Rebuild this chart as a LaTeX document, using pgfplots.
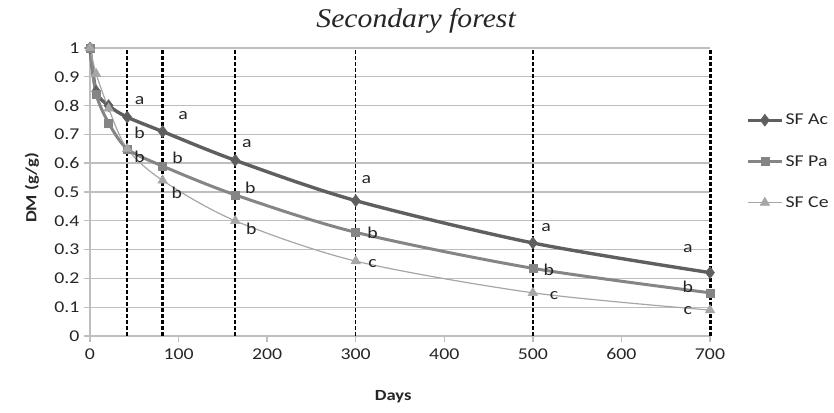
\documentclass[border=0pt]{standalone}
\usepackage{pgfplots}
\pgfplotsset{compat=1.18}
\usepackage{fontspec}
\setmainfont{Carlito}[FakeStretch=1.2]
\newfontfamily\titlefont{Liberation Serif}[FakeStretch=1.1]
\definecolor{acc}{HTML}{5F5F5F}
\definecolor{pac}{HTML}{858585}
\definecolor{cec}{HTML}{A6A6A6}
\definecolor{gridc}{HTML}{BEBEBE}
\definecolor{txt}{HTML}{262626}
\begin{document}
\begin{tikzpicture}
\begin{axis}[
  scale only axis, width=620pt, height=288pt,
  xmin=0, xmax=700, ymin=0, ymax=1,
  xtick={0,100,...,700}, ytick={0,0.1,...,1.0},
  yticklabels={0,0.1,0.2,0.3,0.4,0.5,0.6,0.7,0.8,0.9,1},
  axis x line=bottom, axis y line=left,
  axis line style={-, gridc, line width=1.6pt},
  tick style={gridc, line width=1.4pt},
  tick align=outside, major tick length=6pt,
  ymajorgrids, grid style={gridc, line width=1.4pt},
  ticklabel style={font=\fontsize{16.5}{19}\selectfont, text=txt},
  /pgf/number format/assume math mode=true,
  xticklabel style={yshift=-3pt},
  yticklabel style={xshift=-1pt},
  clip=false,
  legend style={at={(rel axis cs:1.058,0.778)}, anchor=north west, draw=none, fill=none,
    font=\fontsize{16.5}{19}\selectfont, text=txt, row sep=25pt, inner sep=0pt},
  legend cell align=left,
  legend image code/.code={\draw[mark repeat=2,mark phase=2,#1] plot coordinates {(0pt,0pt)(17pt,0pt)(34pt,0pt)};},
]
% dashed vertical lines
\addplot[black, line width=2.2pt, dash pattern=on 4pt off 2pt, forget plot] coordinates {(42,0) (42,1)};
\addplot[black, line width=2.6pt, dash pattern=on 4pt off 2pt, forget plot] coordinates {(82,0) (82,1)};
\addplot[black, line width=2.4pt, dash pattern=on 4pt off 2pt, forget plot] coordinates {(164,0) (164,1)};
\addplot[black, line width=1.3pt, dash pattern=on 4pt off 2pt, forget plot] coordinates {(300,0) (300,1)};
\addplot[black, line width=2.6pt, dash pattern=on 4pt off 2pt, forget plot] coordinates {(500,0) (500,1)};
\addplot[black, line width=3pt, dash pattern=on 4pt off 2pt, forget plot] coordinates {(700,0) (700,1)};
% series
\addplot[acc, line width=3.4pt, smooth, tension=0.5, mark=diamond*, mark size=6pt, mark options={solid, fill=acc, draw=acc, line width=0.5pt}]
  coordinates {(0,1.0) (7,0.85) (21,0.80) (42,0.76) (82,0.71) (164,0.61) (300,0.47) (500,0.323) (700,0.22)};
\addlegendentry{SF Ac}
\addplot[pac, line width=3pt, smooth, tension=0.5, mark=square*, mark size=4pt, mark options={solid, fill=pac, draw=pac, line width=0.5pt}]
  coordinates {(0,1.0) (7,0.84) (21,0.74) (42,0.65) (82,0.59) (164,0.49) (300,0.36) (500,0.235) (700,0.15)};
\addlegendentry{SF Pa}
\addplot[cec, line width=1.2pt, smooth, tension=0.5, mark=triangle*, mark size=5.5pt, mark options={solid, fill=cec, draw=cec, line width=0.5pt}]
  coordinates {(0,1.0) (7,0.91) (21,0.79) (42,0.65) (82,0.54) (164,0.40) (300,0.26) (500,0.15) (700,0.09)};
\addlegendentry{SF Ce}
% letters
\begin{scope}[every node/.style={font=\fontsize{16.5}{19}\selectfont, text=txt, inner sep=0pt}]
\node at (axis cs:56,0.818) {a};
\node at (axis cs:56,0.705) {b};
\node at (axis cs:56,0.622) {b};
\node at (axis cs:105,0.764) {a};
\node at (axis cs:99,0.618) {b};
\node at (axis cs:98,0.497) {b};
\node at (axis cs:177,0.667) {a};
\node at (axis cs:181,0.514) {b};
\node at (axis cs:182,0.372) {b};
\node at (axis cs:312,0.542) {a};
\node at (axis cs:319,0.358) {b};
\node at (axis cs:319,0.253) {c};
\node at (axis cs:515,0.375) {a};
\node at (axis cs:518,0.229) {b};
\node at (axis cs:524,0.139) {c};
\node at (axis cs:675,0.305) {a};
\node at (axis cs:675,0.170) {b};
\node at (axis cs:675,0.090) {c};
\end{scope}
\node[font=\titlefont\itshape\fontsize{27}{30}\selectfont, text=txt] at (rel axis cs:0.526,1.094) {Secondary forest};
\node[font=\bfseries\fontsize{15.5}{18}\selectfont, text=txt, rotate=90] at (rel axis cs:-0.0935,0.514) {DM (g/g)};
\node[font=\bfseries\fontsize{15.5}{18}\selectfont, text=txt] at (rel axis cs:0.489,-0.212) {Days};
\coordinate (ll) at (rel axis cs:0,0);
\end{axis}
\pgfresetboundingbox
\path (ll) ++(-90pt,-76pt) rectangle ++(834pt,412pt);
\end{tikzpicture}
\end{document}
